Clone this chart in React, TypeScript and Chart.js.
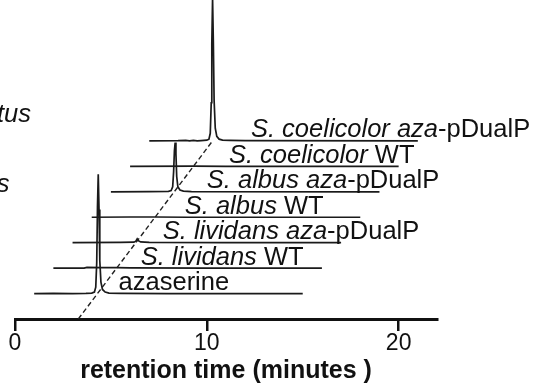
import React, { useEffect, useRef } from 'react';
import { Chart, registerables } from 'chart.js';

Chart.register(...registerables);

const FONT = '"Liberation Sans", Arial, Helvetica, sans-serif';

// x axis (retention time, minutes)
const xMin = 0;
const xMax = 22;
const xTickValues = [0, 10, 20];
const xTitle = 'retention time (minutes )';

// chromatograms: [retention time (min), signal (stack units)]
const azaserine: [number, number][] = [
  [1.0, 0], [2.0, 0.01], [3.0, 0], [3.7, 0.01], [4.0, 0.02], [4.14, 0.06], [4.21, 0.25],
  [4.26, 1.2], [4.3, 3.4], [4.34, 4.69], [4.38, 3.3], [4.42, 1.3], [4.48, 0.45],
  [4.56, 0.16], [4.7, 0.06], [4.9, 0.02], [5.5, 0.01], [8.0, 0], [12.0, 0], [15.0, 0],
];
const lividansWT: [number, number][] = [
  [1.0, 0], [2.6, 0], [2.75, 0.03], [3.5, 0.02], [4.3, 0.02], [5.0, 0.01], [9.0, 0], [15.0, 0],
];
const lividansAza: [number, number][] = [
  [1.0, 0], [3.5, 0.01], [4.2, 0.02], [4.3, 0.06], [4.37, 0.15], [4.43, 0.08], [4.55, 0.03],
  [5.0, 0.01], [9.0, 0], [15.0, 0],
];
const albusWT: [number, number][] = [
  [1.0, 0], [3.0, 0.01], [4.3, 0.01], [6.0, 0], [15.0, 0],
];
const albusAza: [number, number][] = [
  [1.0, 0], [3.0, 0.01], [4.0, 0.02], [4.14, 0.05], [4.22, 0.2], [4.27, 0.8], [4.31, 1.6],
  [4.35, 1.94], [4.39, 1.5], [4.43, 0.6], [4.49, 0.2], [4.6, 0.07], [4.78, 0.03],
  [5.2, 0.01], [15.0, 0],
];
const coelicolorWT: [number, number][] = [
  [1.0, 0], [4.3, 0.01], [6.0, 0], [15.0, 0],
];
const coelicolorAza: [number, number][] = [
  [1.0, 0], [2.5, 0.01], [2.9, 0.02], [3.1, 0], [3.3, 0.025], [3.5, 0.005], [3.7, 0.015],
  [4.0, 0.03], [4.11, 0.07], [4.18, 0.3], [4.23, 1.5], [4.26, 3.8], [4.3, 5.6], [4.34, 3.9],
  [4.38, 1.6], [4.44, 0.5], [4.52, 0.18], [4.64, 0.07], [4.82, 0.03], [5.2, 0.02], [6.0, 0.01],
  [15.0, 0],
];

const traces = [azaserine, lividansWT, lividansAza, albusWT, albusAza, coelicolorWT, coelicolorAza];

// sample labels: [text, italic]
const traceLabels: [string, boolean][][] = [
  [['azaserine', false]],
  [['S. lividans', true], [' WT', false]],
  [['S. lividans aza', true], ['-pDualP', false]],
  [['S. albus', true], [' WT', false]],
  [['S. albus aza', true], ['-pDualP', false]],
  [['S. coelicolor', true], [' WT', false]],
  [['S. coelicolor aza', true], ['-pDualP', false]],
];

// dashed guide through the peaks: [time, stack level]
const guideLine: [number, number][] = [[3.3, 0], [10.3, 7]];

// fragments of neighbouring panel labels cut off at the left edge
const cutTexts = ['tus', 's'];

const labelsPlugin = {
  id: 'traceLabels',
  afterDatasetsDraw(chart: any) {
    const { ctx, scales } = chart;
    const xs = scales.x;
    const ys = scales.y;
    const size = 25.5;
    ctx.save();
    ctx.fillStyle = '#111';
    ctx.textBaseline = 'alphabetic';
    ctx.textAlign = 'left';
    traceLabels.forEach((parts, k) => {
      let x = xs.getPixelForValue(5.4 + 1.15 * k);
      const y = ys.getPixelForValue(k + 1) - 3.5;
      parts.forEach(([t, it]) => {
        ctx.font = `${it ? 'italic ' : ''}${size}px ${FONT}`;
        ctx.fillText(t, x, y);
        x += ctx.measureText(t).width;
      });
    });
    ctx.font = `italic ${size}px ${FONT}`;
    ctx.textAlign = 'right';
    ctx.fillText(cutTexts[0], 31, 121.5);
    ctx.fillText(cutTexts[1], 9.5, 192);
    ctx.restore();
  },
};

export default function App() {
  const ref = useRef<HTMLCanvasElement | null>(null);
  useEffect(() => {
    if (!ref.current) return;
    const datasets: any[] = traces.map((pts, k) => ({
      data: pts.map(([t, v]) => ({ x: t + k, y: k + 1 + v })),
      borderColor: '#1a1a1a',
      borderWidth: 1.7,
      pointRadius: 0,
      tension: 0,
      fill: false,
    }));
    datasets.push({
      data: guideLine.map(([t, l]) => ({ x: t, y: l })),
      borderColor: '#222',
      borderWidth: 1.4,
      borderDash: [5, 3],
      pointRadius: 0,
      fill: false,
    });
    const chart = new Chart(ref.current, {
      type: 'line',
      data: { datasets },
      plugins: [labelsPlugin],
      options: {
        animation: false,
        responsive: false,
        devicePixelRatio: 1,
        layout: { padding: { left: 15, right: 104, top: 0, bottom: 0 } },
        plugins: { legend: { display: false }, tooltip: { enabled: false } },
        scales: {
          x: {
            type: 'linear',
            min: xMin,
            max: xMax,
            afterBuildTicks: (s: any) => {
              s.ticks = xTickValues.map((v) => ({ value: v }));
            },
            grid: {
              display: true,
              drawOnChartArea: false,
              drawTicks: true,
              tickLength: 12,
              tickColor: '#111',
              tickWidth: 2.5,
              color: '#111',
              lineWidth: 2.5,
            },
            border: { display: true, color: '#111', width: 3 },
            ticks: {
              color: '#111',
              padding: 1,
              maxRotation: 0,
              font: { size: 23, family: FONT, lineHeight: 1.0 },
            },
            title: {
              display: true,
              text: xTitle,
              color: '#111',
              font: { size: 25, weight: 'bold', family: FONT, lineHeight: 1.2 },
              padding: { top: 0, bottom: 5 },
            },
          },
          y: { display: false, min: 0, max: 12.54 },
        },
      } as any,
    });
    return () => chart.destroy();
  }, []);
  return (
    <div style={{ position: 'fixed', left: 0, top: 0, width: 541, height: 391, background: '#fff' }}>
      <canvas ref={ref} width={541} height={391} />
    </div>
  );
}
